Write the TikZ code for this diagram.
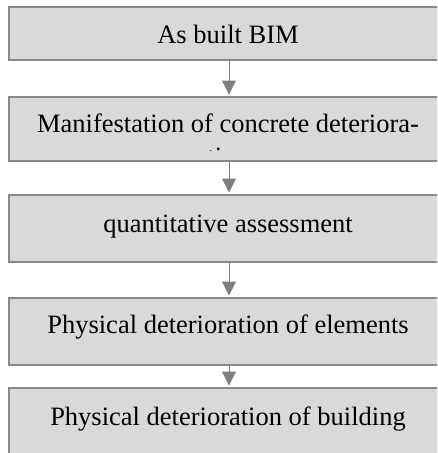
\documentclass[tikz,border=0pt]{standalone}
\usepackage{fontspec}
\setmainfont{Liberation Serif}
\usetikzlibrary{arrows.meta}
\definecolor{boxfill}{HTML}{D9D9D9}
\definecolor{boxline}{HTML}{898989}
\definecolor{arrowc}{HTML}{7F7F7F}
\begin{document}
\begin{tikzpicture}[x=1pt,y=-1pt,
  stagebox/.style={draw=boxline, line width=2pt, fill=boxfill, minimum width=440pt, inner sep=0pt, outer sep=0pt},
  stagetext/.style={anchor=base, inner sep=0pt, font=\fontsize{26.5}{30}\selectfont},
  flow/.style={draw=arrowc, line width=1pt, -{Triangle[width=14pt,length=14pt]}, shorten >=2.5pt}]
\useasboundingbox (0,0) rectangle (437,453);
\clip (0,0) rectangle (437,453);
\node[stagebox, minimum height=53pt] (b1) at (229,33.5) {};
\node[stagebox, minimum height=64pt] (b2) at (229,129) {};
\node[stagebox, minimum height=67pt] (b3) at (229,228.5) {};
\node[stagebox, minimum height=67pt] (b4) at (229,331.5) {};
\node[stagebox, minimum height=67pt] (b5) at (229,421.5) {};
\node[stagetext] (t1) at (228,43) {As built BIM};
\node[stagetext] (t2) at (228,132) {Manifestation of concrete deteriora-};
\begin{scope}
  \clip (0,140) rectangle (437,150.5);
  \node[stagetext] (t2b) at (228,165.5) {tion};
\end{scope}
\node[stagetext] (t3) at (228,232) {quantitative assessment};
\node[stagetext] (t4) at (228,333) {Physical deterioration of elements};
\node[stagetext] (t5) at (228,425) {Physical deterioration of building};
\draw[flow] (b1.south) -- (b2.north);
\draw[flow] (b2.south) -- (b3.north);
\draw[flow] (b3.south) -- (b4.north);
\draw[flow] (b4.south) -- (b5.north);
\end{tikzpicture}
\end{document}
